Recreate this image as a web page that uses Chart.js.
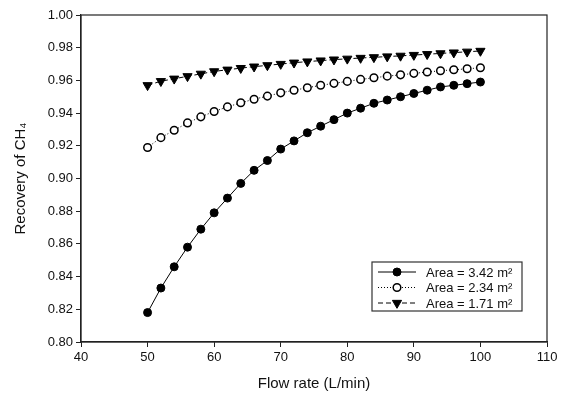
<!DOCTYPE html>
<html>
<head>
<meta charset="utf-8">
<script src="https://cdn.jsdelivr.net/npm/chart.js@4/dist/chart.umd.min.js"></script>
<style>
  body { margin: 0; background: #fff; }
  #wrap { width: 564px; height: 397px; position: relative; }
</style>
</head>
<body>
<div id="wrap"><canvas id="recoveryChart"></canvas></div>
<script>
// flow rate (L/min)
const flowRates = [50, 52, 54, 56, 58, 60, 62, 64, 66, 68, 70, 72, 74, 76, 78, 80, 82, 84, 86, 88, 90, 92, 94, 96, 98, 100];

// recovery of CH4 for each membrane area
const area342 = [0.818, 0.833, 0.846, 0.858, 0.869, 0.879, 0.888, 0.897, 0.905, 0.911, 0.918, 0.923, 0.928, 0.932, 0.936, 0.940, 0.943, 0.946, 0.948, 0.950, 0.952, 0.954, 0.956, 0.957, 0.958, 0.959];
const area234 = [0.919, 0.925, 0.9295, 0.934, 0.9377, 0.941, 0.9438, 0.9463, 0.9485, 0.9504, 0.9524, 0.954, 0.9555, 0.957, 0.9582, 0.9594, 0.9606, 0.9616, 0.9626, 0.9634, 0.9643, 0.9651, 0.9659, 0.9665, 0.9671, 0.9677];
const area171 = [0.957, 0.9595, 0.961, 0.9625, 0.964, 0.9655, 0.9665, 0.9675, 0.9684, 0.9692, 0.970, 0.9708, 0.9715, 0.9721, 0.9727, 0.9732, 0.9737, 0.9741, 0.9746, 0.975, 0.9755, 0.976, 0.9765, 0.977, 0.9775, 0.978];

const seriesLabels = ['Area = 3.42 m\u00B2', 'Area = 2.34 m\u00B2', 'Area = 1.71 m\u00B2'];

const xTicks = [40, 50, 60, 70, 80, 90, 100, 110];
const yTicks = [0.80, 0.82, 0.84, 0.86, 0.88, 0.90, 0.92, 0.94, 0.96, 0.98, 1.00];

const FONT = '"Liberation Sans", Arial, sans-serif';

function toPoints(values) {
    return values.map((v, i) => ({ x: flowRates[i], y: v }));
}

// box around plot area + legend in the lower right corner
const framePlugin = {
    id: 'frame',
    afterDraw(chart) {
        const { ctx, chartArea: a } = chart;
        ctx.save();
        ctx.strokeStyle = '#222';
        ctx.lineWidth = 1.2;
        ctx.strokeRect(a.left, a.top, a.right - a.left, a.bottom - a.top);

        // legend box
        const bx = 372, by = 262, bw = 150, bh = 49;
        ctx.strokeStyle = '#333';
        ctx.fillStyle = '#fff';
        ctx.fillRect(bx, by, bw, bh);
        ctx.strokeRect(bx, by, bw, bh);

        chart.data.datasets.forEach((ds, i) => {
            const cy = by + 10 + i * 15.5;
            const x0 = bx + 6, x1 = bx + 44;
            ctx.strokeStyle = '#000';
            ctx.lineWidth = 1;
            ctx.setLineDash(ds.borderDash || []);
            ctx.beginPath();
            ctx.moveTo(x0, cy);
            ctx.lineTo(x1, cy);
            ctx.stroke();
            ctx.setLineDash([]);
            ctx.fillStyle = ds.pointBackgroundColor;
            ctx.strokeStyle = ds.pointBorderColor;
            ctx.lineWidth = ds.pointBorderWidth;
            Chart.helpers.drawPoint(ctx, {
                pointStyle: ds.pointStyle,
                radius: ds.pointRadius,
                borderWidth: ds.pointBorderWidth,
                rotation: ds.pointRotation || 0
            }, (x0 + x1) / 2, cy);
            ctx.fillStyle = '#111';
            ctx.font = '13px ' + FONT;
            ctx.textBaseline = 'middle';
            ctx.fillText(ds.label, bx + 54, cy + 1);
        });
        ctx.restore();
    }
};

new Chart(document.getElementById('recoveryChart'), {
    type: 'line',
    data: {
        datasets: [
            {
                label: seriesLabels[0],
                data: toPoints(area342),
                borderColor: '#000',
                borderWidth: 1,
                pointStyle: 'circle',
                pointRadius: 4,
                pointBorderWidth: 1,
                pointBackgroundColor: '#000',
                pointBorderColor: '#000'
            },
            {
                label: seriesLabels[1],
                data: toPoints(area234),
                borderColor: '#000',
                borderWidth: 1,
                borderDash: [1, 2],
                pointStyle: 'circle',
                pointRadius: 3.8,
                pointBorderWidth: 1.5,
                pointBackgroundColor: '#fff',
                pointBorderColor: '#000'
            },
            {
                label: seriesLabels[2],
                data: toPoints(area171),
                borderColor: '#000',
                borderWidth: 1,
                borderDash: [5, 3],
                pointStyle: 'triangle',
                pointRotation: 180,
                pointRadius: 5.3,
                pointBorderWidth: 1,
                pointBackgroundColor: '#000',
                pointBorderColor: '#000'
            }
        ]
    },
    options: {
        responsive: true,
        maintainAspectRatio: false,
        animation: false,
        layout: { padding: { top: 15, right: 17, left: 0, bottom: 0 } },
        plugins: {
            legend: { display: false },
            tooltip: { enabled: false }
        },
        scales: {
            x: {
                type: 'linear',
                min: 40,
                max: 110,
                afterBuildTicks: scale => { scale.ticks = xTicks.map(v => ({ value: v })); },
                ticks: {
                    color: '#111',
                    font: { family: FONT, size: 13 },
                    padding: 3,
                    maxRotation: 0
                },
                grid: { drawOnChartArea: false, drawTicks: true, tickLength: 5, color: '#222' },
                border: { color: '#222', width: 1.2 },
                title: {
                    display: true,
                    text: 'Flow rate (L/min)',
                    color: '#111',
                    font: { family: FONT, size: 15 },
                    padding: { top: 7 }
                },
                afterFit: scale => { scale.height = 55; }
            },
            y: {
                min: 0.80,
                max: 1.00,
                afterBuildTicks: scale => { scale.ticks = yTicks.map(v => ({ value: v })); },
                ticks: {
                    color: '#111',
                    font: { family: FONT, size: 13 },
                    padding: 3,
                    callback: v => v.toFixed(2)
                },
                grid: { drawOnChartArea: false, drawTicks: true, tickLength: 5, color: '#222' },
                border: { color: '#222', width: 1.2 },
                title: {
                    display: true,
                    text: 'Recovery of CH\u2084',
                    color: '#111',
                    font: { family: FONT, size: 15 },
                    padding: { top: 12, bottom: 4 }
                },
                afterFit: scale => { scale.width = 81; }
            }
        }
    },
    plugins: [framePlugin]
});
</script>
</body>
</html>
